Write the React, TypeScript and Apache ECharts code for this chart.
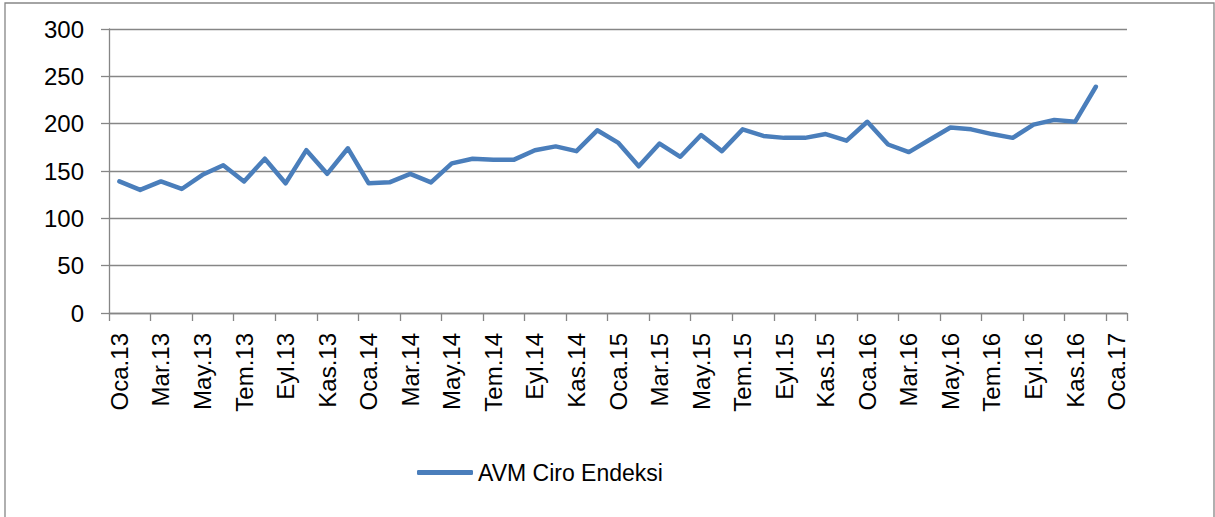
import React, { useEffect, useRef } from "react";
import * as echarts from "echarts";

const monthNames = ["Oca", "Şub", "Mar", "Nis", "May", "Haz", "Tem", "Ağu", "Eyl", "Eki", "Kas", "Ara"];
const years = ["13", "14", "15", "16"];
const categories: string[] = [];
years.forEach((y) => monthNames.forEach((m) => categories.push(`${m}.${y}`)));
categories.push("Oca.17");

const seriesName = "AVM Ciro Endeksi";
const values = [
  139, 130, 139, 131, 146, 156, 139, 163, 137, 172, 147, 174,
  137, 138, 147, 138, 158, 163, 162, 162, 172, 176, 171, 193,
  180, 155, 179, 165, 188, 171, 194, 187, 185, 185, 189, 182,
  202, 178, 170, 183, 196, 194, 189, 185, 199, 204, 202, 239,
];

const yTicks = { min: 0, max: 300, interval: 50 };

const FONT = "'Liberation Sans', Arial, sans-serif";
const GRAY = "#868686";

export default function App() {
  const ref = useRef<HTMLDivElement>(null);
  useEffect(() => {
    if (!ref.current) return;
    const chart = echarts.init(ref.current, undefined, { renderer: "svg" });
    chart.setOption({
      animation: false,
      backgroundColor: "#ffffff",
      textStyle: { fontFamily: FONT },
      grid: { left: 109, right: 88, top: 29, bottom: 204, outerBoundsMode: "none", containLabel: false },
      graphic: [
        {
          type: "rect",
          shape: { x: 5, y: 3, width: 1209, height: 540 },
          style: { fill: "none", stroke: GRAY, lineWidth: 1.3 },
          silent: true,
          z: -10,
        },
      ],
      legend: {
        data: [seriesName],
        left: 417,
        top: 461,
        padding: 0,
        icon: "roundRect",
        itemWidth: 56,
        itemHeight: 5,
        textStyle: { fontSize: 23, color: "#000", fontFamily: FONT },
      },
      xAxis: {
        type: "category",
        data: categories,
        boundaryGap: true,
        axisLine: { lineStyle: { color: GRAY, width: 1.3 } },
        axisTick: { show: true, interval: 1, length: 8, lineStyle: { color: GRAY, width: 1.3 } },
        axisLabel: { interval: 1, rotate: 90, margin: 20, fontSize: 24, color: "#000", fontFamily: FONT },
        splitLine: { show: false },
      },
      yAxis: {
        type: "value",
        min: yTicks.min,
        max: yTicks.max,
        interval: yTicks.interval,
        axisLine: { show: true, lineStyle: { color: GRAY, width: 1.3 } },
        axisTick: { show: true, length: 8, lineStyle: { color: GRAY, width: 1.3 } },
        axisLabel: { margin: 25, fontSize: 24, color: "#000", fontFamily: FONT },
        splitLine: { show: true, lineStyle: { color: GRAY, width: 1.3 } },
      },
      series: [
        {
          name: seriesName,
          type: "line",
          data: values,
          symbol: "none",
          color: "#4a7ebb",
          lineStyle: { width: 4.5, color: "#4a7ebb", cap: "round", join: "round" },
        },
      ],
    });
    return () => chart.dispose();
  }, []);
  return (
    <div
      ref={ref}
      style={{ position: "absolute", left: 0, top: 0, width: 1215, height: 517 }}
    />
  );
}
